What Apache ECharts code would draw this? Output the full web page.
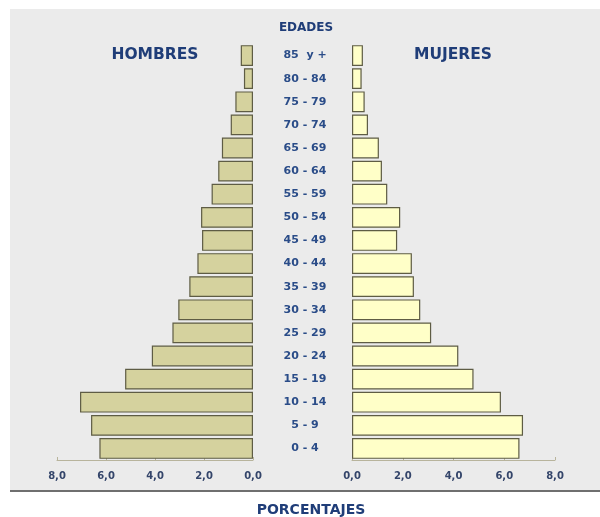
<!DOCTYPE html>
<html>
<head>
<meta charset="utf-8">
<script src="https://cdn.jsdelivr.net/npm/echarts@6/dist/echarts.min.js"></script>
<style>html,body{margin:0;padding:0;background:#fff;}#c{width:600px;height:517px;}</style>
</head>
<body>
<div id="c"></div>
<script>
const categories = ['0 - 4','5 - 9','10 - 14','15 - 19','20 - 24','25 - 29','30 - 34','35 - 39','40 - 44','45 - 49','50 - 54','55 - 59','60 - 64','65 - 69','70 - 74','75 - 79','80 - 84','85  y +'];
const hombres = [6.27,6.61,7.06,5.22,4.13,3.29,3.05,2.6,2.27,2.08,2.12,1.69,1.42,1.27,0.91,0.72,0.37,0.5];
const mujeres = [6.6,6.74,5.87,4.79,4.19,3.12,2.69,2.44,2.36,1.78,1.9,1.39,1.18,1.06,0.63,0.5,0.38,0.43];
const xTicks = [0,2,4,6,8];

const chart = echarts.init(document.getElementById('c'), null, {renderer:'canvas'});
const labColor = '#2a4c88';
const titleColor = '#1f3d78';
const tickColor = '#34456a';
const FONT = 'DejaVu Sans';
const fmt = v => v.toFixed(1).replace('.', ',');
const xAxisCommon = {
  type:'value', min:xTicks[0], max:xTicks[xTicks.length-1], interval:xTicks[1]-xTicks[0],
  splitLine:{show:false},
  axisLine:{show:true, lineStyle:{color:'#b8b49c', width:1}},
  axisTick:{show:true, inside:true, length:3, lineStyle:{color:'#b8b49c'}},
  axisLabel:{formatter:fmt, color:tickColor, fontFamily:FONT, fontWeight:'bold', fontSize:10, margin:11}
};
const titleStyle = size => ({color:titleColor, fontFamily:FONT, fontWeight:'bold', fontSize:size});
chart.setOption({
  backgroundColor:'#ffffff',
  animation:false,
  graphic:[
    {type:'rect', shape:{x:10,y:9,width:590,height:482}, style:{fill:'#ebebeb'}, z:-10},
    {type:'line', shape:{x1:10,y1:491,x2:600,y2:491}, style:{stroke:'#6f6f6f', lineWidth:2}, z:-9}
  ],
  title:[
    {text:'EDADES', left:306, top:22, padding:0, textAlign:'center', textStyle:titleStyle(12)},
    {text:'HOMBRES', left:155, top:47, padding:0, textAlign:'center', textStyle:titleStyle(15.5)},
    {text:'MUJERES', left:453, top:47, padding:0, textAlign:'center', textStyle:titleStyle(15.5)},
    {text:'PORCENTAJES', left:311, top:503, padding:0, textAlign:'center', textStyle:titleStyle(14)}
  ],
  grid:[
    {left:57, right:347, top:44, bottom:57},
    {left:352, right:45, top:44, bottom:57}
  ],
  xAxis:[
    Object.assign({}, xAxisCommon, {gridIndex:0, inverse:true}),
    Object.assign({}, xAxisCommon, {gridIndex:1})
  ],
  yAxis:[
    {type:'category', gridIndex:0, data:categories, axisLine:{show:false}, axisTick:{show:false}, axisLabel:{show:false}},
    {type:'category', gridIndex:1, data:categories, axisLine:{show:false}, axisTick:{show:false},
     axisLabel:{show:true, margin:47, align:'center', color:labColor, fontFamily:FONT, fontWeight:'bold', fontSize:11}}
  ],
  series:[
    {type:'bar', xAxisIndex:0, yAxisIndex:0, data:hombres, barWidth:'90%',
     itemStyle:{color:'#d5d29e', borderColor:'#5e5c44', borderWidth:1.2}},
    {type:'bar', xAxisIndex:1, yAxisIndex:1, data:mujeres, barWidth:'90%',
     itemStyle:{color:'#ffffc8', borderColor:'#5e5c44', borderWidth:1.2}}
  ]
});
</script>
</body>
</html>
